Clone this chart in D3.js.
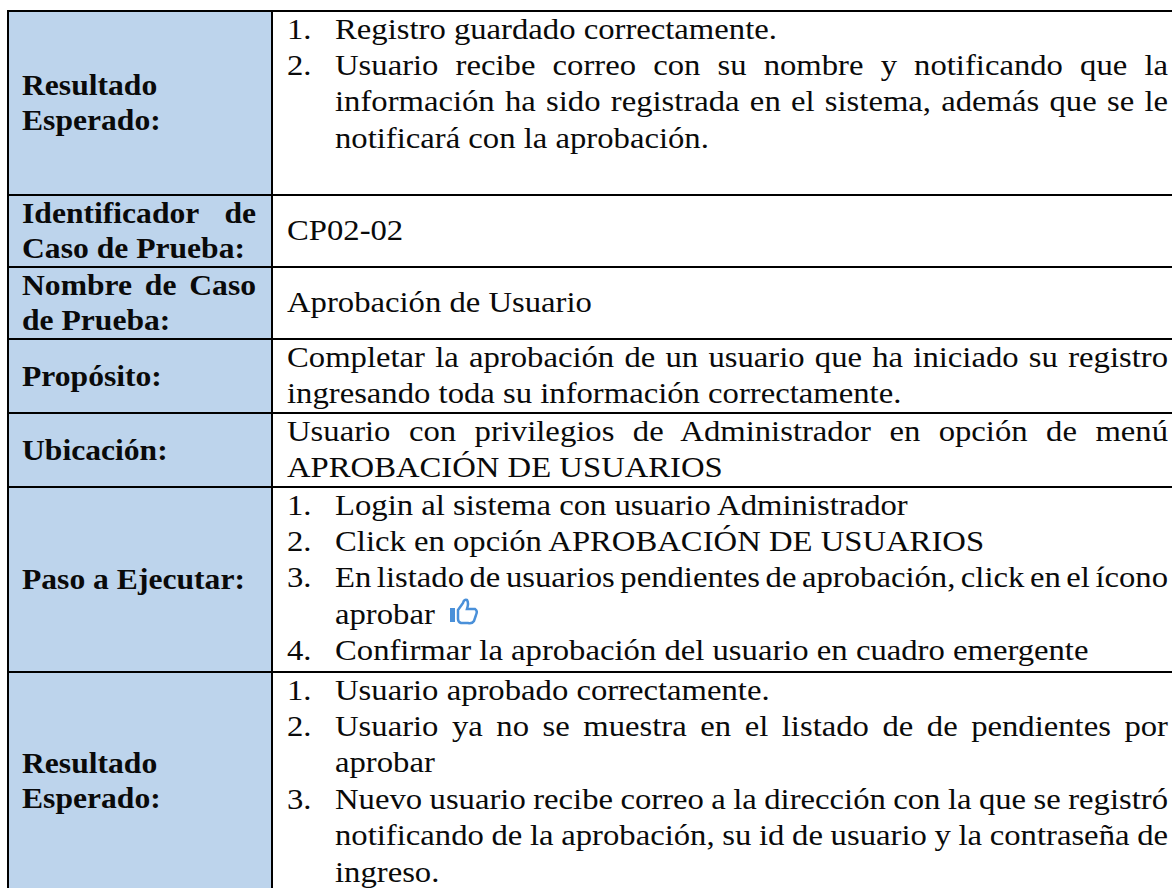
<!DOCTYPE html>
<html>
<head>
<meta charset="utf-8">
<script src="https://cdn.jsdelivr.net/npm/d3@7"></script>
<style>
  html, body { margin: 0; background: #fff; }
  svg { display: block; }
  text { fill: #0a0a0a; }
</style>
</head>
<body>
<svg id="chart" width="1172" height="888"></svg>
<script>
'use strict'

var rowNames = ['res1', 'id', 'nombre', 'prop', 'ubic', 'paso', 'res2']
var rowLabels = [
  ['Resultado', 'Esperado:'],
  ['Identificador de', 'Caso de Prueba:'],
  ['Nombre de Caso', 'de Prueba:'],
  ['Propósito:'],
  ['Ubicación:'],
  ['Paso a Ejecutar:'],
  ['Resultado', 'Esperado:']
]
var justifiedLabels = ['Identificador de', 'Nombre de Caso']

// each line: [number or '', text, justified]
var res1Lines = [
  ['1.', 'Registro guardado correctamente.', false],
  ['2.', 'Usuario recibe correo con su nombre y notificando que la', true],
  ['', 'información ha sido registrada en el sistema, además que se le', true],
  ['', 'notificará con la aprobación.', false]
]
var idLines = [['', 'CP02-02', false]]
var nombreLines = [['', 'Aprobación de Usuario', false]]
var propLines = [
  ['', 'Completar la aprobación de un usuario que ha iniciado su registro', true],
  ['', 'ingresando toda su información correctamente.', false]
]
var ubicLines = [
  ['', 'Usuario con privilegios de Administrador en opción de menú', true],
  ['', 'APROBACIÓN DE USUARIOS', false]
]
var pasoLines = [
  ['1.', 'Login al sistema con usuario Administrador', false],
  ['2.', 'Click en opción APROBACIÓN DE USUARIOS', false],
  ['3.', 'En listado de usuarios pendientes de aprobación, click en el ícono', true],
  ['', 'aprobar', false],
  ['4.', 'Confirmar la aprobación del usuario en cuadro emergente', false]
]
var res2Lines = [
  ['1.', 'Usuario aprobado correctamente.', false],
  ['2.', 'Usuario ya no se muestra en el listado de de pendientes por', true],
  ['', 'aprobar', false],
  ['3.', 'Nuevo usuario recibe correo a la dirección con la que se registró', true],
  ['', 'notificando de la aprobación, su id de usuario y la contraseña de', true],
  ['', 'ingreso.', false]
]
var rowLines = [res1Lines, idLines, nombreLines, propLines, ubicLines, pasoLines, res2Lines]

var rowTops = [11, 195, 267, 339, 413, 487, 672]
var rowBottoms = [195, 267, 339, 413, 487, 672, 889]

var chartWidth = 1172
var tableLeft = 8
var split = 272
var pitch = 36.4
var labelPitch = 35
var bodySize = 30
var bodyStretch = 1.09
var labelSize = 29
var labelStretch = 1.09

var svg = d3.select('#chart')
var rowTop = d3.scaleOrdinal(rowNames, rowTops)
var rowBottom = d3.scaleOrdinal(rowNames, rowBottoms)
var centre = (n) => (rowTop(n) + rowBottom(n)) / 2

// label column
svg.append('g').selectAll('rect')
  .data(rowNames)
  .enter().append('rect')
    .attr('x', tableLeft)
    .attr('y', (d) => rowTop(d))
    .attr('width', split - tableLeft)
    .attr('height', (d) => rowBottom(d) - rowTop(d))
    .attr('fill', '#bdd4ec')

// grid
var grid = svg.append('g').attr('stroke', '#000').attr('stroke-width', 2)
grid.selectAll('line.row')
  .data(rowTops)
  .enter().append('line')
    .attr('class', 'row')
    .attr('x1', tableLeft - 1)
    .attr('x2', chartWidth)
    .attr('y1', (d) => d)
    .attr('y2', (d) => d)
grid.selectAll('line.col')
  .data([tableLeft, split])
  .enter().append('line')
    .attr('class', 'col')
    .attr('x1', (d) => d)
    .attr('x2', (d) => d)
    .attr('y1', rowTops[0])
    .attr('y2', 888)

// put a line at x, optionally widened to end at right
function putLine (g, str, x, y, stretch, right) {
  var t = g.append('text')
    .attr('transform', 'translate(' + x + ',' + y + ') scale(' + stretch + ',1)')
    .text(str)
  if (right) {
    var gaps = str.split(' ').length - 1
    var extra = (right - x) / stretch - t.node().getComputedTextLength()
    t.style('word-spacing', (extra / gaps) + 'px')
  }
  return t
}

var labels = svg.append('g')
  .attr('font-family', '"Liberation Serif", serif')
  .attr('font-weight', 'bold')
  .attr('font-size', labelSize)
rowNames.forEach((name, i) => {
  var lines = rowLabels[i]
  var base = centre(name) + 9.5 - (lines.length - 1) * labelPitch / 2
  lines.forEach((str, j) => {
    putLine(labels, str, 22, base + j * labelPitch, labelStretch,
      justifiedLabels.indexOf(str) >= 0 ? 256 : null)
  })
})

var body = svg.append('g')
  .attr('font-family', '"Liberation Serif", serif')
  .attr('font-size', bodySize)
rowNames.forEach((name, i) => {
  var lines = rowLines[i]
  var base = lines.length === 1 ? centre(name) + 9 : rowTop(name) + 27.5
  lines.forEach((d, j) => {
    var y = base + j * pitch
    var listed = lines.some((l) => l[0] !== '')
    if (d[0]) putLine(body, d[0], 287, y, bodyStretch, null)
    putLine(body, d[1], listed ? 335 : 287, y, bodyStretch, d[2] ? 1168 : null)
  })
})

// thumbs-up icon after "aprobar"
var icon = svg.append('g').attr('transform', 'translate(448,598)')
icon.append('rect')
  .attr('x', 2).attr('y', 10).attr('width', 5).attr('height', 14)
  .attr('fill', '#4a90d9')
icon.append('path')
  .attr('d', 'M10 12 L15 5 Q16 1 19 2 Q21 5 19 11 L27 11 Q30 13 28 17 L26 23 Q24 26 20 25 L13 25 Q10 24 10 21 Z')
  .attr('fill', 'none')
  .attr('stroke', '#4a90d9')
  .attr('stroke-width', 2.5)
</script>
</body>
</html>
